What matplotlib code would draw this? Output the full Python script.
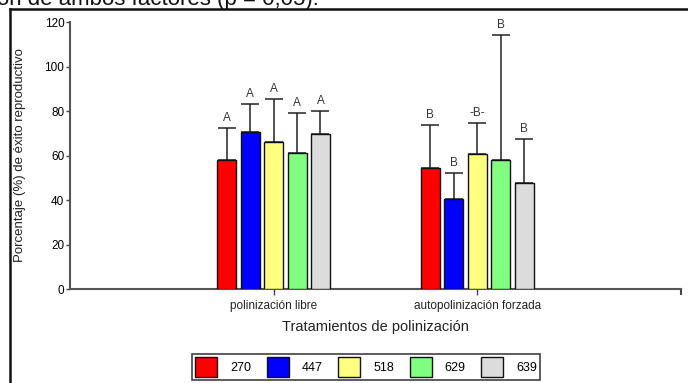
import numpy as np
import matplotlib.pyplot as plt
from matplotlib.lines import Line2D

plt.rcParams['font.family'] = ['Liberation Sans', 'DejaVu Sans']

treatments = ['polinización libre', 'autopolinización forzada']
plants = ['270', '447', '518', '629', '639']
colors = ['#ff0000', '#0000ff', '#ffff80', '#80ff80', '#dcdcdc']

# means per plant, [libre, forzada]
means = {
    '270': [58, 54.5],
    '447': [70.5, 40.3],
    '518': [66, 60.5],
    '629': [61, 57.8],
    '639': [69.7, 47.6],
}
# upper end of error bars
tops = {
    '270': [72.5, 73.6],
    '447': [83.3, 52.1],
    '518': [85.4, 74.5],
    '629': [79.2, 114.3],
    '639': [79.9, 67.4],
}
letters = [['A', 'A', 'A', 'A', 'A'], ['B', 'B', '-B-', 'B', 'B']]

fig = plt.figure(figsize=(6.88, 3.83), dpi=100)
ax = fig.add_axes([0.1017, 0.2454, 0.888, 0.697])

x = np.array([1, 2])
w = 0.093
step = 0.115
for i, p in enumerate(plants):
    xs = x + (i - 2) * step
    m = np.array(means[p])
    err = np.array(tops[p]) - m
    ax.bar(xs, m, width=w, color=colors[i], edgecolor='#111111', linewidth=1.0,
           label=p, zorder=3)
    ax.errorbar(xs, m, yerr=[np.zeros_like(err), err], fmt='none',
                ecolor='#222222', elinewidth=1.1, capsize=6.8, capthick=1.1, zorder=2)
    for g in range(2):
        ax.text(xs[g], tops[p][g] + 1.8, letters[g][i], ha='center', va='bottom',
                fontsize=8.5, color='#333333')

ax.set_xlim(0, 3)
ax.set_ylim(0, 120)
ax.set_yticks(np.arange(0, 121, 20))
ax.set_xticks(x)
ax.set_xticklabels(treatments, fontsize=8.5, color='#222222')
ax.tick_params(axis='y', labelsize=8.5, length=3, width=1, color='#444444', pad=1)
ax.tick_params(axis='x', length=4, width=1, color='#444444', pad=4)
ax.set_xticks([3], minor=True)
ax.tick_params(axis='x', which='minor', length=4, width=1.5, color='#444444')
for s in ['top', 'right']:
    ax.spines[s].set_visible(False)
for s in ['left', 'bottom']:
    ax.spines[s].set_color('#555555')
    ax.spines[s].set_linewidth(1.5)
ax.set_ylabel('Porcentaje (%) de éxito reproductivo', fontsize=9.5, color='#222222', labelpad=13)
ax.set_xlabel('Tratamientos de polinización', fontsize=10.5, color='#222222', labelpad=6)

leg = ax.legend(loc='upper left', bbox_to_anchor=(0.279, 0.0757), bbox_transform=fig.transFigure,
                ncol=5, fontsize=9, frameon=True, fancybox=False, edgecolor='#111111',
                handlelength=1.75, handleheight=2.1, handletextpad=1.05, columnspacing=1.25,
                borderpad=0.25, borderaxespad=0)
leg.get_frame().set_linewidth(1.2)

# page frame and cut-off caption from the source document
fig.add_artist(Line2D([0.0145, 0.0145], [0, 0.977], transform=fig.transFigure,
                      color='#111111', linewidth=1.8))
fig.add_artist(Line2D([0.0145, 1], [0.977, 0.977], transform=fig.transFigure,
                      color='#111111', linewidth=1.8))
fig.text(-0.004, 0.988, 'ón de ambos factores (p = 0,05).', fontsize=16,
         va='baseline', ha='left', color='#111111')

fig.savefig('out.png', dpi=100)
